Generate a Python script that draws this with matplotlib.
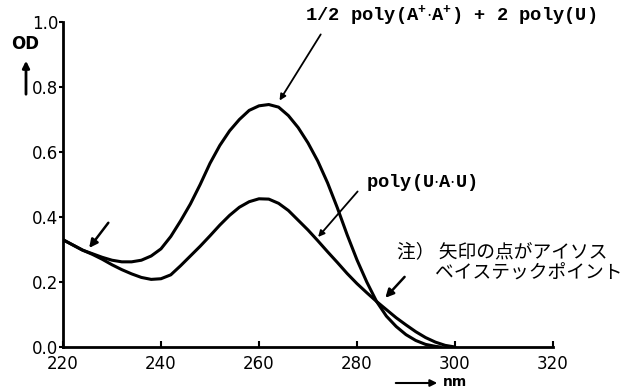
import matplotlib
matplotlib.use('Agg')
import matplotlib.pyplot as plt

# absorption spectra
wl_mix = [220, 222, 224, 226, 228, 230, 232, 234, 236, 238, 240, 242, 244, 246,
          248, 250, 252, 254, 256, 258, 260, 262, 264, 266, 268, 270, 272, 274,
          276, 278, 280, 282, 284, 286, 288, 290, 292, 294, 296, 297]
od_mix = [0.33, 0.314, 0.298, 0.287, 0.276, 0.267, 0.262, 0.262, 0.267, 0.28,
          0.302, 0.34, 0.388, 0.44, 0.5, 0.565, 0.62, 0.665, 0.70, 0.728, 0.742,
          0.746, 0.738, 0.712, 0.675, 0.628, 0.572, 0.505, 0.428, 0.345, 0.268,
          0.2, 0.14, 0.095, 0.063, 0.038, 0.02, 0.008, 0.002, 0.0]

wl_uau = [220, 222, 224, 226, 228, 230, 232, 234, 236, 238, 240, 242, 244, 246,
          248, 250, 252, 254, 256, 258, 260, 262, 264, 266, 268, 270, 272, 274,
          276, 278, 280, 282, 284, 286, 288, 290, 292, 294, 296, 298, 300]
od_uau = [0.33, 0.314, 0.298, 0.285, 0.27, 0.253, 0.238, 0.225, 0.214, 0.208,
          0.21, 0.222, 0.25, 0.28, 0.31, 0.342, 0.375, 0.405, 0.43, 0.447, 0.456,
          0.455, 0.442, 0.42, 0.39, 0.36, 0.327, 0.293, 0.26, 0.226, 0.195, 0.167,
          0.14, 0.115, 0.09, 0.068, 0.047, 0.029, 0.015, 0.005, 0.0]

x_ticks = [220, 240, 260, 280, 300, 320]
y_ticks = [0.0, 0.2, 0.4, 0.6, 0.8, 1.0]
y_labels = ['0.0', '0.2', '0.4', '0.6', '0.8', '1.0']

label_mix = r'1/2 poly(A$^{+}$$\cdot$A$^{+}$) + 2 poly(U)'
label_uau = r'poly(U$\cdot$A$\cdot$U)'
note_1 = '注） 矢印の点がアイソス'
note_2 = 'ベイステックポイント'

plt.rcParams['mathtext.fontset'] = 'custom'
plt.rcParams['mathtext.rm'] = 'Liberation Mono:bold'
plt.rcParams['mathtext.it'] = 'Liberation Mono:bold'
plt.rcParams['mathtext.bf'] = 'Liberation Mono:bold'

fig = plt.figure(figsize=(6.23, 3.89), dpi=100)
ax = fig.add_axes([0.1011, 0.108, 0.7865, 0.8355])

ax.plot(wl_mix, od_mix, color='black', lw=2.2, solid_capstyle='round', solid_joinstyle='round')
ax.plot(wl_uau, od_uau, color='black', lw=2.2, solid_capstyle='round', solid_joinstyle='round')

ax.set_xlim(220, 320)
ax.set_ylim(0, 1.0)
ax.set_xticks(x_ticks)
ax.set_yticks(y_ticks)
ax.set_yticklabels(y_labels)
for s in ['top', 'right']:
    ax.spines[s].set_visible(False)
for s in ['left', 'bottom']:
    ax.spines[s].set_linewidth(2)
ax.tick_params(axis='x', direction='in', length=4, width=1.5, pad=6, labelsize=12)
ax.tick_params(axis='y', direction='out', length=3, width=1.5, pad=0.5, labelsize=12)

mono = dict(family='Liberation Mono', fontsize=13.5, weight='bold', color='black')
ax.text(269.4, 1.006, label_mix, va='baseline', ha='left', clip_on=False, **mono)
ax.annotate('', xy=(263.9, 0.751), xytext=(272.9, 0.969),
            arrowprops=dict(arrowstyle='-|>', lw=1.3, color='black', mutation_scale=9))

ax.text(281.8, 0.492, label_uau, va='baseline', ha='left', **mono)
ax.annotate('', xy=(271.7, 0.332), xytext=(280.5, 0.485),
            arrowprops=dict(arrowstyle='-|>', lw=1.3, color='black', mutation_scale=9))

# isosbestic point arrows
ax.annotate('', xy=(225.0, 0.298), xytext=(229.6, 0.389),
            arrowprops=dict(arrowstyle='-|>', lw=1.8, color='black', mutation_scale=12))
ax.annotate('', xy=(285.4, 0.145), xytext=(290.1, 0.222),
            arrowprops=dict(arrowstyle='-|>', lw=1.8, color='black', mutation_scale=12))

jp = dict(family=['Noto Sans CJK JP', 'DejaVu Sans'], fontsize=13.5, color='black')
ax.text(288.2, 0.292, note_1, va='center', ha='left', clip_on=False, **jp)
ax.text(295.9, 0.228, note_2, va='center', ha='left', clip_on=False, **jp)

# axis names with arrows
fig.text(25 / 623, 1 - 44 / 389, 'OD', ha='center', va='center', fontsize=12, weight='bold')
ax.annotate('', xy=(26, 331), xytext=(26, 292), xycoords='figure pixels',
            textcoords='figure pixels',
            arrowprops=dict(arrowstyle='-|>', lw=2, color='black', mutation_scale=10))
fig.text(455 / 623, 0.5 / 389, 'nm', ha='center', va='bottom', fontsize=10, weight='bold')
ax.annotate('', xy=(440, 6), xytext=(393, 6), xycoords='figure pixels',
            textcoords='figure pixels',
            arrowprops=dict(arrowstyle='-|>', lw=1.5, color='black', mutation_scale=10))

fig.savefig('out.png', dpi=100)
